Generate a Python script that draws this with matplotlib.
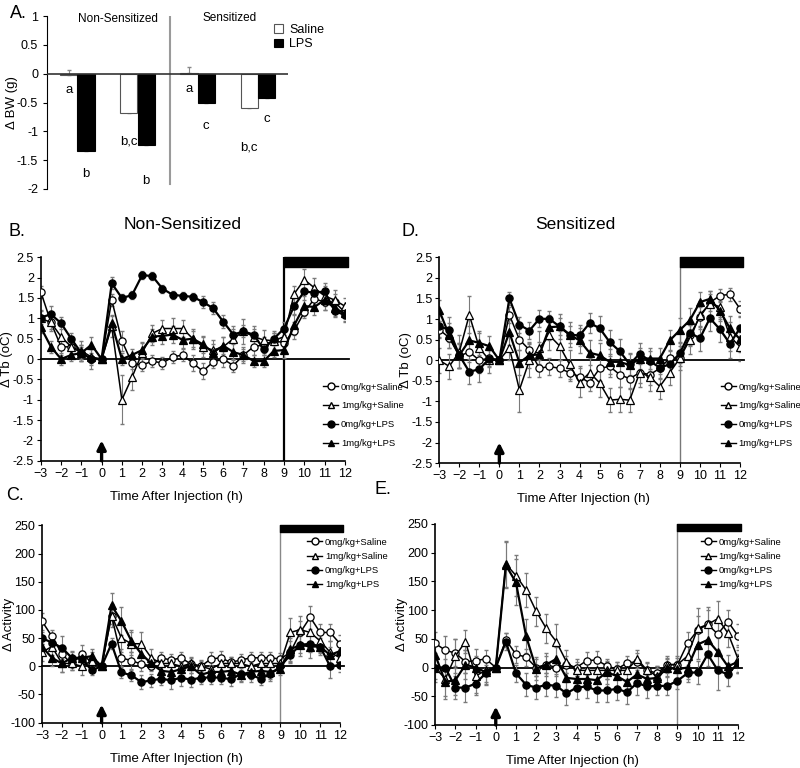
"""Body weight, body temperature and activity after LPS in non-sensitized and sensitized rats"""

import numpy as np
import matplotlib.pyplot as plt
from matplotlib.ticker import FuncFormatter
from matplotlib.lines import Line2D

plt.rcParams['font.family'] = ['Liberation Sans', 'DejaVu Sans']

# ---- Panel A: change in body weight ----
bw_saline = [-0.02, -0.68, 0.02, -0.59]
bw_saline_err = [0.09, 0.31, 0.10, 0.51]
bw_lps = [-1.35, -1.23, -0.50, -0.43]
bw_lps_err = [0.21, 0.45, 0.22, 0.17]
letters_saline = ['a', 'b,c', 'a', 'b,c']
letters_lps = ['b', 'b', 'c', 'c']

# ---- time courses, sampled every 30 min from -3 h to 12 h ----
hours = np.arange(-3, 12.5, 0.5)
labels = ['0mg/kg+Saline', '1mg/kg+Saline', '0mg/kg+LPS', '1mg/kg+LPS']

# B: non-sensitized, body temperature
ns_tb_sal0 = [1.65, 0.90, 0.30, 0.30, 0.15, 0.00, 0.00, 1.45, 0.45, -0.10, -0.15, -0.05, -0.10, 0.05, 0.10, -0.10,
              -0.30, -0.07, 0.00, -0.16, 0.10, 0.30, 0.35, 0.45, 0.40, 0.70, 1.15, 1.48, 1.40, 1.40, 1.15]
ns_tb_sal1 = [1.00, 0.90, 0.55, 0.30, 0.20, 0.05, 0.00, 0.80, -1.00, -0.45, 0.15, 0.63, 0.75, 0.75, 0.75, 0.50,
              0.30, 0.22, 0.30, 0.50, 0.68, 0.55, 0.47, 0.45, 0.55, 1.60, 1.95, 1.75, 1.55, 1.45, 1.30]
ns_tb_lps0 = [1.02, 1.10, 0.88, 0.50, 0.15, 0.00, 0.00, 1.86, 1.50, 1.57, 2.06, 2.04, 1.73, 1.58, 1.55, 1.53,
              1.40, 1.25, 0.92, 0.60, 0.68, 0.60, 0.24, 0.50, 0.75, 1.30, 1.66, 1.63, 1.66, 1.18, 1.08]
ns_tb_lps1 = [0.78, 0.30, 0.00, 0.10, 0.15, 0.35, 0.00, 0.88, 0.00, 0.10, 0.22, 0.55, 0.57, 0.60, 0.47, 0.50,
              0.36, 0.16, 0.33, 0.17, 0.10, -0.05, -0.05, 0.20, 0.22, 0.83, 1.30, 1.28, 1.45, 1.25, 1.12]
ns_tb_sal0_err = [0.15, 0.15, 0.20, 0.15, 0.20, 0.25, 0.00, 0.15, 0.25, 0.15, 0.15, 0.15, 0.15, 0.15, 0.15, 0.20,
                  0.20, 0.15, 0.20, 0.15, 0.20, 0.20, 0.20, 0.20, 0.20, 0.20, 0.15, 0.20, 0.20, 0.20, 0.15]
ns_tb_sal1_err = [0.20, 0.20, 0.25, 0.25, 0.25, 0.20, 0.00, 0.25, 0.60, 0.30, 0.25, 0.20, 0.20, 0.25, 0.20, 0.25,
                  0.25, 0.25, 0.25, 0.30, 0.30, 0.25, 0.25, 0.25, 0.25, 0.20, 0.25, 0.25, 0.25, 0.25, 0.20]
ns_tb_lps0_err = [0.15, 0.20, 0.15, 0.15, 0.15, 0.10, 0.00, 0.15, 0.10, 0.10, 0.10, 0.10, 0.10, 0.10, 0.10, 0.10,
                  0.15, 0.15, 0.15, 0.15, 0.15, 0.15, 0.15, 0.15, 0.15, 0.20, 0.20, 0.15, 0.20, 0.15, 0.15]
ns_tb_lps1_err = [0.15, 0.15, 0.15, 0.15, 0.20, 0.20, 0.00, 0.20, 0.15, 0.15, 0.20, 0.20, 0.20, 0.20, 0.20, 0.20,
                  0.20, 0.20, 0.20, 0.20, 0.15, 0.15, 0.15, 0.15, 0.20, 0.25, 0.25, 0.20, 0.25, 0.20, 0.20]

# D: sensitized, body temperature
s_tb_sal0 = [0.74, 0.55, 0.10, 0.20, 0.00, 0.05, 0.00, 1.10, 0.50, 0.25, -0.20, -0.15, -0.20, -0.30, -0.40, -0.55,
             -0.20, -0.15, -0.35, -0.45, -0.30, -0.35, -0.20, 0.05, 0.05, 0.60, 1.05, 1.40, 1.57, 1.60, 1.25]
s_tb_sal1 = [0.00, -0.15, 0.20, 1.10, 0.30, 0.00, 0.00, 0.30, -0.72, 0.00, 0.30, 0.60, 0.35, -0.10, -0.55, -0.30,
             -0.55, -0.97, -0.95, -0.97, -0.30, -0.40, -0.64, -0.30, 0.05, 0.50, 1.10, 1.37, 1.30, 0.57, 0.33]
s_tb_lps0 = [0.82, 0.74, 0.12, -0.28, -0.22, 0.04, 0.00, 1.50, 0.86, 0.72, 1.01, 1.00, 0.82, 0.62, 0.60, 0.90,
             0.78, 0.44, 0.22, -0.10, 0.16, -0.02, -0.18, -0.10, 0.17, 0.67, 0.53, 1.02, 0.75, 0.40, 0.78]
s_tb_lps1 = [1.21, 0.60, 0.12, 0.48, 0.42, 0.34, 0.00, 0.68, -0.06, 0.12, 0.14, 0.80, 0.82, 0.62, 0.48, 0.18,
             0.12, -0.04, -0.04, -0.12, 0.04, 0.04, 0.04, 0.48, 0.73, 0.97, 1.41, 1.49, 1.20, 0.77, 0.51]
s_tb_sal0_err = [0.20, 0.25, 0.30, 0.25, 0.30, 0.20, 0.00, 0.20, 0.25, 0.20, 0.20, 0.20, 0.20, 0.20, 0.25, 0.20,
                 0.30, 0.25, 0.30, 0.25, 0.25, 0.25, 0.25, 0.20, 0.20, 0.25, 0.25, 0.20, 0.15, 0.15, 0.20]
s_tb_sal1_err = [0.30, 0.30, 0.40, 0.45, 0.35, 0.30, 0.00, 0.30, 0.55, 0.40, 0.40, 0.35, 0.35, 0.35, 0.35, 0.35,
                 0.35, 0.30, 0.30, 0.30, 0.35, 0.35, 0.30, 0.30, 0.30, 0.35, 0.35, 0.30, 0.30, 0.35, 0.35]
s_tb_lps0_err = [0.25, 0.30, 0.30, 0.30, 0.30, 0.20, 0.00, 0.15, 0.20, 0.20, 0.20, 0.20, 0.20, 0.20, 0.25, 0.25,
                 0.30, 0.30, 0.30, 0.25, 0.25, 0.25, 0.25, 0.20, 0.25, 0.30, 0.30, 0.30, 0.30, 0.35, 0.30]
s_tb_lps1_err = [0.25, 0.30, 0.30, 0.35, 0.30, 0.25, 0.00, 0.30, 0.30, 0.30, 0.30, 0.30, 0.30, 0.30, 0.30, 0.30,
                 0.30, 0.30, 0.30, 0.30, 0.25, 0.25, 0.25, 0.25, 0.30, 0.30, 0.25, 0.20, 0.25, 0.30, 0.30]

# C: non-sensitized, activity
ns_act_sal0 = [80, 53, 22, 4, 22, 7, 0, 90, 15, 10, 4, 1, 15, 11, 15, 4,
               0, 13, 15, 7, 11, 15, 15, 15, 13, 25, 60, 87, 60, 60, 40]
ns_act_sal1 = [25, 35, 5, 5, 0, 10, 0, 90, 50, 40, 40, 15, 5, 5, 0, 5,
               0, -5, 5, 5, 5, 0, 5, 5, 5, 60, 65, 60, 45, 25, 15]
ns_act_lps0 = [50, 42, 33, 15, 13, -7, 0, 40, -11, -16, -28, -25, -22, -25, -20, -24,
               -20, -20, -20, -23, -14, -15, -22, -14, 0, 20, 38, 40, 35, 0, 2]
ns_act_lps1 = [35, 15, 5, 15, 15, 18, 0, 108, 80, 45, 22, 5, -8, -10, -5, 0,
               -15, -10, -10, -8, -15, -10, -8, -10, -5, 30, 38, 35, 35, 20, 27]
ns_act_sal0_err = [15, 12, 15, 10, 15, 10, 0, 15, 15, 15, 12, 10, 10, 10, 10, 10,
                   10, 12, 12, 10, 10, 10, 10, 10, 10, 20, 20, 20, 15, 15, 15]
ns_act_sal1_err = [15, 15, 15, 12, 15, 15, 0, 20, 25, 20, 20, 15, 12, 12, 12, 12,
                   12, 12, 12, 12, 12, 12, 12, 12, 12, 25, 25, 25, 20, 20, 15]
ns_act_lps0_err = [10, 12, 20, 10, 10, 8, 0, 10, 10, 10, 12, 12, 12, 15, 15, 12,
                   12, 12, 12, 12, 12, 12, 12, 12, 8, 12, 15, 15, 12, 20, 12]
ns_act_lps1_err = [15, 15, 15, 12, 12, 12, 0, 22, 25, 20, 15, 12, 12, 12, 12, 12,
                   12, 12, 12, 12, 12, 12, 12, 12, 10, 20, 20, 20, 15, 15, 15]

# E: sensitized, activity
s_act_sal0 = [42, 30, 25, 10, 12, 15, 0, 48, 23, 18, 0, 5, 0, 5, 0, 12,
              13, 3, -3, 8, 10, -5, -10, 5, 5, 42, 65, 75, 58, 80, 55]
s_act_sal1 = [0, -20, 20, 45, -15, -5, 0, 180, 160, 135, 98, 68, 45, 10, -5, -5,
              -5, -5, -5, -5, 15, -5, -15, 5, 5, 20, 68, 75, 85, 60, 15]
s_act_lps0 = [0, 0, -35, -35, -28, -10, 0, 45, -10, -30, -35, -30, -32, -45, -35, -33,
              -40, -40, -37, -43, -27, -33, -32, -32, -23, -10, -8, 23, -5, -12, 8]
s_act_lps1 = [22, -25, -22, 5, 0, -8, 0, 178, 148, 55, -2, 5, 15, -18, -20, -20,
              -22, -8, -15, -25, -12, -20, -18, 0, -3, 0, 40, 48, 27, 2, 10]
s_act_sal0_err = [20, 25, 25, 20, 20, 15, 0, 12, 15, 15, 15, 15, 15, 15, 15, 15,
                  15, 12, 12, 12, 15, 12, 12, 12, 12, 20, 25, 25, 30, 20, 20]
s_act_sal1_err = [25, 35, 30, 20, 30, 25, 0, 40, 35, 30, 25, 25, 30, 20, 15, 15,
                  15, 15, 15, 15, 15, 15, 15, 15, 15, 25, 35, 30, 30, 25, 25]
s_act_lps0_err = [20, 25, 20, 25, 20, 15, 0, 15, 15, 20, 20, 20, 20, 20, 20, 20,
                  20, 20, 20, 20, 20, 20, 15, 15, 15, 15, 20, 20, 35, 20, 15]
s_act_lps1_err = [20, 25, 25, 25, 20, 20, 0, 40, 40, 30, 20, 20, 20, 20, 20, 20,
                  20, 20, 20, 20, 20, 20, 20, 15, 15, 20, 25, 25, 25, 20, 20]

fmt = FuncFormatter(lambda v, p: '%g' % v)
styles = [('o', 'white'), ('^', 'white'), ('o', 'black'), ('^', 'black')]


def time_panel(ax, series, errs, ylim, ystep, ylabel, bar_low, arrow_top, v_color, v_width, leg_pos, leg_space,
               xlab_x):
    # error bars first so the symbols sit on top
    for vals, err in zip(series, errs):
        ax.errorbar(hours, vals, yerr=err, fmt='none', ecolor='#7a7a7a', elinewidth=0.8, capsize=1.5, zorder=2)
    handles = []
    for vals, (mk, fc), lab in zip(series, styles, labels):
        lw = 1.6 if fc == 'black' else 1.1
        ax.plot(hours, vals, color='black', lw=lw, marker=mk, ms=5.2, mfc=fc, mec='black', mew=0.9,
                zorder=3, label=lab)
        handles.append(Line2D([], [], color='black', lw=1.0, marker=mk, ms=5, mfc=fc, mec='black'))
    ax.plot([-3, 12.2], [0, 0], color='black', lw=1.3, clip_on=False, zorder=1)
    # dark phase bar and light-off line
    ax.fill_between([9, 12.15], bar_low, ylim[1], color='black', clip_on=False, zorder=4)
    ax.plot([9, 9], [ylim[0], ylim[1]], color=v_color, lw=v_width, zorder=1)
    ax.annotate('', xy=(0, arrow_top), xytext=(0, ylim[0]),
                arrowprops=dict(arrowstyle='-|>', color='black', lw=2.4, mutation_scale=13,
                                shrinkA=0, shrinkB=0))
    ax.set_xlim(-3, 12)
    ax.set_ylim(ylim)
    ax.set_xticks(range(-3, 13))
    ax.set_yticks(np.arange(ylim[0], ylim[1] + ystep / 2, ystep))
    ax.yaxis.set_major_formatter(fmt)
    ax.tick_params(labelsize=9, length=3, direction='out', pad=2)
    for s in ['top', 'right']:
        ax.spines[s].set_visible(False)
    ax.spines['left'].set_linewidth(1.2)
    ax.spines['bottom'].set_linewidth(1.2)
    ax.set_ylabel(ylabel, fontsize=9.5)
    ax.yaxis.set_label_coords(-0.09, 0.5)
    ax.set_xlabel('Time After Injection (h)', fontsize=9.5, labelpad=8)
    ax.xaxis.label.set_x(xlab_x)
    ax.legend(handles, labels, loc='upper left', bbox_to_anchor=leg_pos, bbox_transform=fig.transFigure,
              frameon=False, fontsize=6.8, handlelength=1.6, handletextpad=0.3, labelspacing=leg_space,
              borderpad=0)


fig = plt.figure(figsize=(8, 7.68), dpi=100)

# ---- Panel A ----
axA = fig.add_axes([0.059, 0.754, 0.301, 0.225])
pos = 1.25 + 3.5 * np.arange(4)
axA.bar(pos, bw_saline, width=1, color='white', edgecolor='#555555', lw=0.8, zorder=3, label='Saline')
axA.bar(pos + 1, bw_lps, width=1, color='black', edgecolor='black', lw=0.8, zorder=3, label='LPS')
axA.errorbar(pos, bw_saline, yerr=[np.zeros(4), bw_saline_err], fmt='none', ecolor='#888888', elinewidth=0.8,
             capsize=1.5, zorder=2)
axA.errorbar(pos + 1, bw_lps, yerr=[np.zeros(4), bw_lps_err], fmt='none', ecolor='#888888', elinewidth=0.8,
             capsize=1.5, zorder=2)
for i in range(4):
    axA.text(pos[i], bw_saline[i] - bw_saline_err[i] - 0.18, letters_saline[i], ha='center', va='center', fontsize=9.5)
    axA.text(pos[i] + 1, bw_lps[i] - bw_lps_err[i] - 0.18, letters_lps[i], ha='center', va='center', fontsize=9.5)
axA.axhline(0, color='#333333', lw=1.2, zorder=4)
axA.axvline(7.15, ymin=0.03, ymax=1, color='#9a9a9a', lw=1.5)
axA.text(4.1, 0.95, 'Non-Sensitized', ha='center', va='center', fontsize=8.5)
axA.text(10.6, 0.97, 'Sensitized', ha='center', va='center', fontsize=8.5)
axA.set_xlim(0, 14)
axA.set_ylim(-2, 1)
axA.set_xticks([])
axA.set_yticks(np.arange(-2, 1.01, 0.5))
axA.yaxis.set_major_formatter(fmt)
axA.tick_params(labelsize=9, length=3)
for s in ['top', 'right', 'bottom']:
    axA.spines[s].set_visible(False)
axA.set_ylabel('\u0394 BW (g)', fontsize=9.5)
axA.yaxis.set_label_coords(-0.12, 0.5)
axA.legend(loc='upper left', bbox_to_anchor=(0.335, 0.977), bbox_transform=fig.transFigure, frameon=False,
           fontsize=9, handlelength=0.7, handleheight=0.7, handletextpad=0.5, labelspacing=0.2, borderpad=0)

# ---- Panel B ----
axB = fig.add_axes([0.051, 0.400, 0.380, 0.265])
time_panel(axB, [ns_tb_sal0, ns_tb_sal1, ns_tb_lps0, ns_tb_lps1],
           [ns_tb_sal0_err, ns_tb_sal1_err, ns_tb_lps0_err, ns_tb_lps1_err],
           (-2.5, 2.5), 0.5, '\u0394 Tb (oC)', 2.27, -2.0, 'black', 1.6, (0.398, 0.508), 1.05, 0.447)

# ---- Panel D ----
axD = fig.add_axes([0.549, 0.397, 0.376, 0.268])
time_panel(axD, [s_tb_sal0, s_tb_sal1, s_tb_lps0, s_tb_lps1],
           [s_tb_sal0_err, s_tb_sal1_err, s_tb_lps0_err, s_tb_lps1_err],
           (-2.5, 2.5), 0.5, '\u0394 Tb (oC)', 2.27, -2.0, '#777777', 1.0, (0.895, 0.508), 1.05, 0.478)

# ---- Panel C ----
axC = fig.add_axes([0.0525, 0.059, 0.3725, 0.257])
time_panel(axC, [ns_act_sal0, ns_act_sal1, ns_act_lps0, ns_act_lps1],
           [ns_act_sal0_err, ns_act_sal1_err, ns_act_lps0_err, ns_act_lps1_err],
           (-100, 250), 50, '\u0394 Activity', 238, -68, '#888888', 1.0, (0.378, 0.306), 0.55, 0.45)

# ---- Panel E ----
axE = fig.add_axes([0.544, 0.056, 0.3785, 0.262])
time_panel(axE, [s_act_sal0, s_act_sal1, s_act_lps0, s_act_lps1],
           [s_act_sal0_err, s_act_sal1_err, s_act_lps0_err, s_act_lps1_err],
           (-100, 250), 50, '\u0394 Activity', 238, -68, '#888888', 1.0, (0.870, 0.306), 0.55, 0.452)

# panel letters and titles
fig.text(0.013, 0.982, 'A.', fontsize=13, va='center')
fig.text(0.010, 0.698, 'B.', fontsize=13, va='center')
fig.text(0.228, 0.708, 'Non-Sensitized', fontsize=12.5, ha='center', va='center')
fig.text(0.502, 0.698, 'D.', fontsize=13, va='center')
fig.text(0.719, 0.708, 'Sensitized', fontsize=12.5, ha='center', va='center')
fig.text(0.008, 0.355, 'C.', fontsize=13, va='center')
fig.text(0.468, 0.362, 'E.', fontsize=13, va='center')

fig.savefig('out.png', dpi=100)
